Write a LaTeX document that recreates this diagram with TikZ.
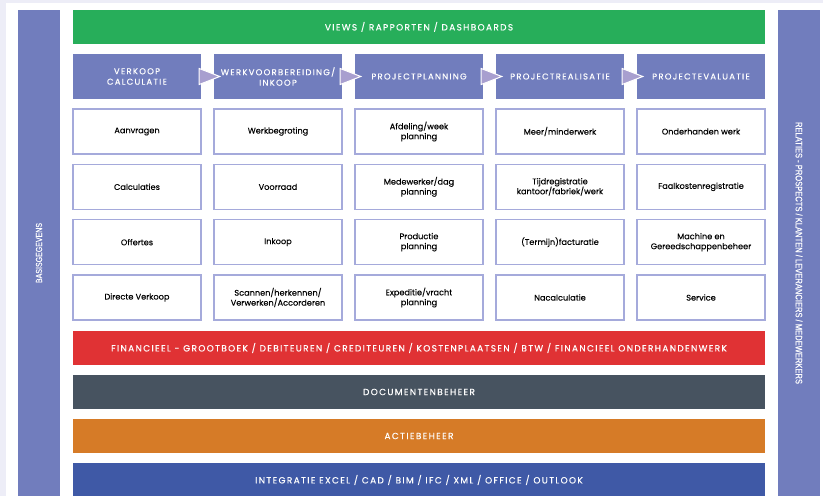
\documentclass[tikz,border=0pt]{standalone}
\usepackage{fontspec}
\usepackage{tikz}
\usetikzlibrary{calc}

\newfontfamily\cellfont[FakeBold=0.1]{Poppins}
\newfontfamily\capsfont[LetterSpace=15,FakeBold=0.3]{Poppins}
\newfontfamily\phasefont[LetterSpace=15,FakeBold=0.3]{Poppins}
\newfontfamily\narrowfont[FakeStretch=0.8,FakeBold=0.6]{Liberation Sans}

\definecolor{page}{HTML}{EDEDF7}
\definecolor{side}{HTML}{717DBD}
\definecolor{viewgreen}{HTML}{27AE5A}
\definecolor{finred}{HTML}{E03234}
\definecolor{docgray}{HTML}{475360}
\definecolor{actorange}{HTML}{D67B27}
\definecolor{intblue}{HTML}{3F59A6}
\definecolor{flowfill}{HTML}{A89FCF}
\definecolor{cellline}{HTML}{A5AADB}

\begin{document}
\begin{tikzpicture}[x=1bp,y=-1bp,
	bar/.style={fill=#1,text=white,minimum width=692bp,minimum height=34bp,inner sep=0pt,
		font=\capsfont\fontsize{9}{10}\selectfont},
	phase/.style={fill=side,text=white,minimum width=128bp,minimum height=45bp,inner sep=0pt,
		align=center,font=\phasefont\fontsize{8.5}{10.5}\selectfont},
	cell/.style={draw=cellline,line width=1.2bp,fill=white,minimum width=128bp,minimum height=45bp,
		inner sep=0pt,align=center,font=\cellfont\fontsize{8.2}{10}\selectfont},
	sidebar/.style={fill=side,text=white,minimum width=486bp,minimum height=42bp,inner sep=0pt,
		font=\narrowfont\fontsize{9.5}{10}\selectfont},
	flow/.style={fill=flowfill,draw=white,line width=1bp}]
	
	\useasboundingbox (0,0) rectangle (823,496);
	\fill[page] (0,0) rectangle (823,496);
	\fill[white] (6,3) rectangle (823,496);
	
	\node (basis) [sidebar,rotate=90,font=\narrowfont\fontsize{8.8}{10}\selectfont] at (39,253) {BASISGEGEVENS};
	\node (relaties) [sidebar,rotate=-90] at (799,253) {RELATIES - PROSPECTS / KLANTEN / LEVERANCIERS / MEDEWERKERS};
	
	\node (views) [bar=viewgreen] at (419,27) {VIEWS / RAPPORTEN / DASHBOARDS};
	
	\node (p1) [phase] at (137,76.5) {VERKOOP\\CALCULATIE};
	\node (p2) [phase] at (278,76.5) {WERKVOORBEREIDING/\\INKOOP};
	\node (p3) [phase] at (419,76.5) {PROJECTPLANNING};
	\node (p4) [phase] at (560,76.5) {PROJECTREALISATIE};
	\node (p5) [phase] at (701,76.5) {PROJECTEVALUATIE};
	
	\foreach \a/\b in {p1/p2, p2/p3, p3/p4, p4/p5}
	\filldraw[flow] ($(\a.east)+(-2,-8)$) -- ($(\b.west)+(6,0)$) -- ($(\a.east)+(-2,8)$) -- cycle;
	
	\foreach \row [count=\r] in {
		{{Aanvragen},{Werkbegroting},{Afdeling/week\\planning},{Meer/minderwerk},{Onderhanden werk}},
		{{Calculaties},{Voorraad},{Medewerker/dag\\planning},{Tijdregistratie\\kantoor/fabriek/werk},{Faalkostenregistratie}},
		{{Offertes},{Inkoop},{Productie\\planning},{(Termijn)facturatie},{Machine en\\Gereedschappenbeheer}},
		{{Directe Verkoop},{Scannen/herkennen/\\Verwerken/Accorderen},{Expeditie/vracht\\planning},{Nacalculatie},{Service}}}
	\foreach \t [count=\c] in \row
	\node (c-\r-\c) [cell] at (137+141*\c-141, 131.5+55.33*\r-55.33) {\t};
	
	\node (fin) [bar=finred] at (419,348) {FINANCIEEL - GROOTBOEK / DEBITEUREN / CREDITEUREN / KOSTENPLAATSEN / BTW / FINANCIEEL ONDERHANDENWERK};
	\node (doc) [bar=docgray] at (419,392) {DOCUMENTENBEHEER};
	\node (act) [bar=actorange] at (419,436) {ACTIEBEHEER};
	\node (int) [bar=intblue] at (419,480) {INTEGRATIE EXCEL / CAD / BIM / IFC / XML / OFFICE / OUTLOOK};
\end{tikzpicture}
\end{document}
